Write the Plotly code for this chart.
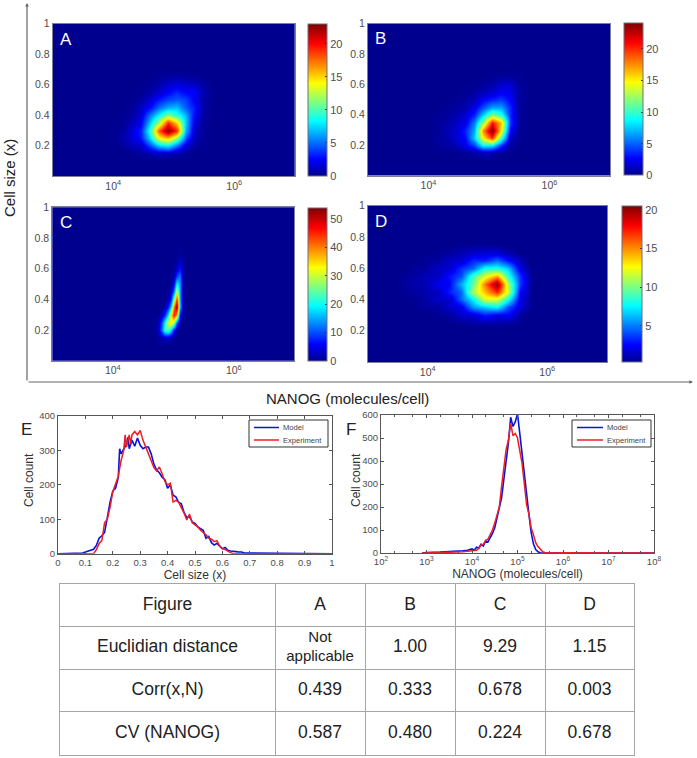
import plotly.graph_objects as go

W, H = 697, 758

# heatmap grids: log10(NANOG) on x, cell size on y
ab_logn = [4.0, 4.15, 4.3, 4.45, 4.6, 4.75, 4.9, 5.05, 5.2, 5.35, 5.5, 5.65]
ab_size = [0.10, 0.15, 0.20, 0.25, 0.30, 0.35, 0.40, 0.45, 0.50, 0.55, 0.60, 0.65, 0.70]
z_a = [
    [0, 0, 0, 0, 0, 0, 0, 0, 0, 0, 0, 0],
    [0, 0, 0, .3, .6, 1, .8, .5, .2, 0, 0, 0],
    [0, .2, 1, 1.2, 4, 7, 8, 5, 1.6, .3, .1, 0],
    [.1, .6, 1.6, 3, 7.5, 14, 16, 12, 4.5, .9, .1, 0],
    [.1, .3, 1.8, 3.2, 9, 18, 23, 19, 6.5, 1.2, .2, 0],
    [0, .1, .9, 2.2, 7, 12, 19, 15, 7, 1.7, .2, 0],
    [0, .1, .4, 1.6, 5, 8, 11, 9, 6.5, 2.4, .4, 0],
    [0, 0, .2, 1.2, 2.6, 5, 6.5, 7, 4.5, 3, .4, 0],
    [0, 0, 0, .4, 1.5, 3, 4, 4.5, 4, 2, .5, 0],
    [0, 0, 0, .1, .6, 1.5, 2.5, 3.5, 2.5, 2.5, .7, .1],
    [0, 0, 0, 0, .2, .6, 1.4, 1.8, 1.5, 1.2, .4, 0],
    [0, 0, 0, 0, 0, .1, .4, .6, .3, .2, 0, 0],
    [0, 0, 0, 0, 0, 0, 0, 0, 0, 0, 0, 0],
]
z_b = [
    [0, 0, 0, 0, 0, 0, 0, 0, 0, 0, 0, 0],
    [0, 0, 0, 0, .2, .5, 1, .8, .2, 0, 0, 0],
    [0, .2, .4, .9, 2.2, 4, 8.5, 8, 3.5, .4, 0, 0],
    [0, .4, .7, 1.7, 2.8, 7.5, 15, 20, 10.5, 1.3, .1, 0],
    [0, .2, 1, 1.3, 3.4, 6.5, 17.5, 24, 15, 2.6, .2, 0],
    [0, .3, .5, 1.4, 2, 5.5, 12, 20.5, 16, 4, .3, 0],
    [0, .1, .4, .6, 1.6, 3.2, 7.5, 11.5, 9.5, 3.5, .3, 0],
    [0, 0, .1, .4, .7, 2, 4.5, 6.5, 6.5, 3.5, .3, 0],
    [0, 0, 0, .1, .4, .9, 2.4, 3.4, 4, 2.6, .4, 0],
    [0, 0, 0, 0, .1, .4, 1, 1.5, 2.4, 2.2, .4, 0],
    [0, 0, 0, 0, 0, .1, .3, .6, 1.6, 1.6, .3, 0],
    [0, 0, 0, 0, 0, 0, 0, .1, .3, .3, .1, 0],
    [0, 0, 0, 0, 0, 0, 0, 0, 0, 0, 0, 0],
]
c_logn = [4.6, 4.65, 4.7, 4.75, 4.8, 4.85, 4.9, 4.95, 5.0, 5.05, 5.1, 5.15, 5.2, 5.25, 5.3]
c_size = [0.10, 0.15, 0.20, 0.25, 0.30, 0.35, 0.40, 0.45, 0.50, 0.55, 0.60, 0.65, 0.70, 0.75]
z_c = [
    [0, 0, 0, 0, 0, 0, 0, 0, 0, 0, 0, 0, 0, 0, 0],
    [0, 0, 0, .5, 1.5, 3, 3, 1.5, .5, 0, 0, 0, 0, 0, 0],
    [0, 0, .8, 4, 12, 22, 24, 18, 7, 1, 0, 0, 0, 0, 0],
    [0, 0, .5, 3, 10, 20, 30, 34, 28, 10, 1, 0, 0, 0, 0],
    [0, 0, 0, 0, 3, 8, 17, 32, 47, 38, 8, .5, 0, 0, 0],
    [0, 0, 0, 0, 0, 2, 6, 16, 40, 54, 17, 1, 0, 0, 0],
    [0, 0, 0, 0, 0, 0, 2, 7, 26, 46, 16, 1, 0, 0, 0],
    [0, 0, 0, 0, 0, 0, 0, 3, 12, 32, 15, 1, 0, 0, 0],
    [0, 0, 0, 0, 0, 0, 0, 0, 5, 20, 14, 1, 0, 0, 0],
    [0, 0, 0, 0, 0, 0, 0, 0, 2, 10, 13, 1.5, 0, 0, 0],
    [0, 0, 0, 0, 0, 0, 0, 0, 0, 3, 7, 1.5, 0, 0, 0],
    [0, 0, 0, 0, 0, 0, 0, 0, 0, .8, 3, 1, 0, 0, 0],
    [0, 0, 0, 0, 0, 0, 0, 0, 0, 0, .5, .2, 0, 0, 0],
    [0, 0, 0, 0, 0, 0, 0, 0, 0, 0, 0, 0, 0, 0, 0],
]
d_logn = [3.35, 3.55, 3.75, 3.95, 4.15, 4.35, 4.55, 4.75, 4.95, 5.15, 5.35, 5.55, 5.75]
d_size = [0.20, 0.25, 0.30, 0.35, 0.40, 0.45, 0.50, 0.55, 0.60, 0.65, 0.70, 0.75, 0.80]
z_d = [
    [0, 0, 0, 0, 0, 0, 0, 0, 0, 0, 0, 0, 0],
    [0, 0, 0, 0, 0, .3, .5, .7, .8, .8, .7, .4, 0],
    [0, 0, 0, .2, .5, .5, 1.5, 1.6, 3, 2, 2.5, .6, 0],
    [0, 0, .3, .6, .6, 1.6, 2, 5.5, 6.5, 7.5, 4, 1.8, .2],
    [0, .2, .4, .7, 1.5, 1.4, 4.5, 7.5, 12, 12, 8, 2, .3],
    [0, .4, .6, .9, 1.2, 3, 4.5, 11, 14, 17, 11.5, 2.5, .3],
    [.1, .5, .8, 1, 2.2, 2.4, 6, 9.5, 15.5, 20.5, 11, 3.6, .3],
    [.1, .4, .6, 1.2, 1.2, 2.8, 4, 9, 12, 14.5, 8.5, 3.4, .3],
    [0, .2, .5, .6, 1.3, 1.5, 3.4, 4.5, 8, 8, 6.5, 1.8, .2],
    [0, 0, .2, .5, .6, 1.4, 1.5, 3.2, 3, 4.5, 2.6, 1.2, 0],
    [0, 0, 0, .3, .4, .6, 1, 1.5, 1.8, 1.8, 1, .3, 0],
    [0, 0, 0, 0, .2, .3, .4, .5, .5, .4, .2, 0, 0],
    [0, 0, 0, 0, 0, 0, 0, 0, 0, 0, 0, 0, 0],
]

# panel E
e_model_x = [0, .08, .09, .10, .11, .12, .13, .14, .15, .16, .17, .18, .19, .20, .21, .22, .225, .23, .24, .25,
             .255, .26, .27, .28, .29, .30, .31, .32, .33, .34, .35, .36, .37, .38, .39, .40, .41, .42, .43, .44,
             .45, .46, .47, .48, .49, .50, .51, .52, .53, .54, .55, .56, .57, .58, .59, .60, .61, .62, .63, .64,
             .65, .66, .67, .68, .69, .70, .75, .76, 1]
e_model_y = [0, 0, 2, 5, 7, 9, 13, 24, 45, 52, 62, 105, 150, 182, 190, 222, 305, 290, 305, 318,
             338, 305, 330, 312, 336, 315, 305, 310, 310, 290, 260, 243, 235, 222, 215, 190, 200, 170, 165, 150,
             145, 120, 105, 108, 92, 88, 78, 72, 68, 45, 50, 32, 25, 30, 22, 14, 18, 10, 8, 6,
             6, 5, 5, 2, 2, 0, 1, 0, 0]
e_exp_x = [0, .13, .14, .15, .16, .17, .18, .19, .20, .21, .22, .23, .24, .245, .25, .26, .265, .27, .28, .29,
           .30, .31, .32, .33, .34, .35, .36, .37, .38, .39, .40, .41, .42, .43, .44, .45, .46, .47, .48, .49,
           .50, .51, .52, .53, .54, .55, .56, .57, .58, .59, .60, .61, .62, .63, .64, 1]
e_exp_y = [0, 0, 12, 30, 38, 90, 100, 135, 180, 200, 225, 270, 300, 345, 310, 345, 318, 345, 355, 345,
           358, 330, 310, 295, 270, 250, 240, 252, 232, 210, 200, 205, 150, 155, 150, 135, 118, 98, 115, 90,
           85, 78, 68, 62, 55, 45, 42, 35, 38, 22, 15, 12, 7, 3, 0, 0]

# panel F, log10(NANOG) positions
f_model_logx = [2.9, 3, 3.3, 3.6, 3.8, 3.9, 4, 4.05, 4.1, 4.15, 4.2, 4.25, 4.3, 4.35, 4.4, 4.45, 4.5, 4.55, 4.6, 4.65,
                4.7, 4.75, 4.8, 4.85, 4.9, 4.95, 5.0, 5.05, 5.1, 5.15, 5.2, 5.25, 5.3, 5.35, 5.4, 5.45, 5.5, 5.6, 8]
f_model_y = [0, 2, 4, 6, 10, 12, 18, 12, 25, 22, 38, 30, 52, 48, 65, 85, 110, 150, 190, 240,
             320, 400, 480, 590, 550, 570, 605, 520, 430, 340, 240, 170, 90, 40, 15, 5, 1, 0, 0]
f_exp_logx = [2.9, 3.5, 3.8, 4, 4.1, 4.15, 4.2, 4.25, 4.3, 4.35, 4.4, 4.45, 4.5, 4.55, 4.6, 4.65, 4.7, 4.75, 4.8, 4.85,
              4.9, 4.95, 5.0, 5.05, 5.1, 5.15, 5.2, 5.25, 5.3, 5.35, 5.4, 5.45, 5.5, 5.55, 5.6, 5.7, 6, 7, 8]
f_exp_y = [0, 2, 5, 10, 12, 20, 35, 38, 55, 60, 78, 100, 130, 165, 200, 290, 380, 450, 490, 565,
           510, 520, 500, 450, 390, 300, 210, 170, 110, 80, 45, 28, 15, 6, 2, 0, 1, 0, 0]

# table
table_header = ['Figure', 'A', 'B', 'C', 'D']
table_rows = [
    ['Euclidian distance', 'Not<br>applicable', '1.00', '9.29', '1.15'],
    ['Corr(x,N)', '0.439', '0.333', '0.678', '0.003'],
    ['CV (NANOG)', '0.587', '0.480', '0.224', '0.678'],
]

jet = [[0, '#00008f'], [0.11, '#0000ff'], [0.36, '#00ffff'], [0.61, '#ffff00'], [0.87, '#ff0000'], [1, '#800000']]
FONT = 'Liberation Sans'
GREY = '#4d4d4d'
BLUE, RED = '#0a14d8', '#ee1c25'


def xdom(a, b):
    return [a / W, b / W]


def ydom(top, bottom):
    return [1 - bottom / H, 1 - top / H]


def ref(letter, i):
    # plotly wants x, x2, x3... as axis references
    return letter if i == 1 else f'{letter}{i}'


def label(px, py, text, size, color='#222222', angle=0, xanchor='center'):
    # text placed by page pixels
    return dict(xref='paper', yref='paper', x=px / W, y=1 - py / H, text=text, textangle=angle, showarrow=False,
                xanchor=xanchor, yanchor='middle', font=dict(size=size, color=color, family=FONT))


fig = go.Figure()
layout = dict(
    width=W, height=H, margin=dict(l=0, r=0, t=0, b=0, autoexpand=False),
    paper_bgcolor='white', plot_bgcolor='white', showlegend=False,
    font=dict(family=FONT, size=10, color=GREY),
)

# (letter, x, y, z, zmin, zmax, left, right, top, bottom, bar left, bar right, bar ticks)
panels = [
    ('A', ab_logn, ab_size, z_a, 0, 23, 52.7, 294.7, 23.7, 176, 308, 327, [0, 5, 10, 15, 20]),
    ('B', ab_logn, ab_size, z_b, 0, 24, 368, 610, 23.7, 175.5, 624, 642.5, [0, 5, 10, 15, 20]),
    ('C', c_logn, c_size, z_c, 0, 54, 52.3, 294.3, 207.3, 360.7, 308, 327, [0, 10, 20, 30, 40, 50]),
    ('D', d_logn, d_size, z_d, 0.3, 20.5, 368, 607, 205.7, 362, 622, 642, [5, 10, 15, 20]),
]
annotations = []
shapes = []
for i, (name, x, y, z, zmin, zmax, left, right, top, bottom, bl, br, bticks) in enumerate(panels, start=1):
    xr, yr = ref('x', i), ref('y', i)
    fig.add_trace(go.Heatmap(
        x=x, y=y, z=z, zmin=zmin, zmax=zmax, colorscale=jet, zsmooth='best',
        xaxis=xr, yaxis=yr, hoverinfo='skip',
        colorbar=dict(
            x=bl / W, xanchor='left', y=1 - bottom / H, yanchor='bottom',
            len=(bottom - top) / H, lenmode='fraction', thickness=br - bl, thicknessmode='pixels',
            xpad=0, ypad=0, outlinecolor='#6f6f80', outlinewidth=1, tickvals=bticks,
            ticks='inside', ticklen=2, tickcolor='#333333',
            tickfont=dict(family=FONT, size=11, color=GREY),
        ),
    ))
    layout[f'xaxis{i}'] = dict(
        domain=xdom(left, right), range=[3, 7], anchor=yr, tickvals=[4, 6],
        ticktext=['10<sup>4</sup>', '10<sup>6</sup>'], showgrid=False, zeroline=False,
        showline=True, mirror=True, linecolor='#7d7d9c', linewidth=1, ticks='',
        tickfont=dict(size=10.5, color=GREY),
    )
    layout[f'yaxis{i}'] = dict(
        domain=ydom(top, bottom), range=[0, 1], anchor=xr, tickvals=[0.2, 0.4, 0.6, 0.8, 1],
        ticktext=['0.2', '0.4', '0.6', '0.8', '1'], showgrid=False, zeroline=False,
        showline=True, mirror=True, linecolor='#7d7d9c', linewidth=1, ticks='',
        tickfont=dict(size=10.5, color=GREY),
    )
    annotations.append(dict(
        xref=f'{xr} domain', yref=f'{yr} domain', x=0.022, y=0.975, xanchor='left', yanchor='top',
        text=name, showarrow=False, font=dict(size=17, color='white', family=FONT),
    ))
    # dark blue field behind the heatmap grid
    shapes.append(dict(type='rect', xref=f'{xr} domain', yref=f'{yr} domain', x0=0, x1=1, y0=0, y1=1,
                       fillcolor='#00008f', line_width=0, layer='below'))

# panel E
fig.add_trace(go.Scatter(x=e_model_x, y=e_model_y, mode='lines', name='Model', xaxis='x5', yaxis='y5',
                         line=dict(color=BLUE, width=1.6)))
fig.add_trace(go.Scatter(x=e_exp_x, y=e_exp_y, mode='lines', name='Experiment', xaxis='x5', yaxis='y5',
                         line=dict(color=RED, width=1.5)))
# panel F
fig.add_trace(go.Scatter(x=[10 ** v for v in f_model_logx], y=f_model_y, mode='lines', name='Model', xaxis='x6', yaxis='y6',
                         line=dict(color=BLUE, width=1.6)))
fig.add_trace(go.Scatter(x=[10 ** v for v in f_exp_logx], y=f_exp_y, mode='lines', name='Experiment', xaxis='x6', yaxis='y6',
                         line=dict(color=RED, width=1.5)))

line_axis = dict(showgrid=False, zeroline=False, showline=True, mirror='ticks', linecolor='#555555', linewidth=1,
                 ticks='inside', ticklen=3, tickcolor='#555555')
layout['xaxis5'] = dict(domain=xdom(58, 332), range=[0, 1], anchor='y5', tickvals=[i / 10 for i in range(11)],
                        ticktext=['0', '0.1', '0.2', '0.3', '0.4', '0.5', '0.6', '0.7', '0.8', '0.9', '1'],
                        title=dict(text='Cell size (x)', font=dict(size=12, color='#333333'), standoff=3),
                        tickfont=dict(size=9.5), **line_axis)
layout['yaxis5'] = dict(domain=ydom(416, 553.7), range=[0, 400], anchor='x5', tickvals=[0, 100, 200, 300, 400],
                        tickfont=dict(size=9.5), **line_axis)
layout['xaxis6'] = dict(domain=xdom(381, 654), type='log', range=[2, 8], anchor='y6', tickvals=[10 ** k for k in range(2, 9)],
                        ticktext=[f'10<sup>{k}</sup>' for k in range(2, 9)],
                        minor=dict(ticks='inside', ticklen=2, tickcolor='#555555'),
                        title=dict(text='NANOG (molecules/cell)', font=dict(size=12, color='#333333'), standoff=1),
                        tickfont=dict(size=9.5), **line_axis)
layout['yaxis6'] = dict(domain=ydom(415, 553), range=[0, 600], anchor='x6', tickvals=[0, 100, 200, 300, 400, 500, 600],
                        tickfont=dict(size=9.5), **line_axis)

# MATLAB style legend boxes, plotly's own legend rows are too tall for these
for box_l, box_r, sample_l, sample_r in [(249, 328, 254, 279), (572, 651, 577, 603)]:
    shapes.append(dict(type='rect', xref='paper', yref='paper', x0=box_l / W, x1=box_r / W,
                       y0=1 - 447 / H, y1=1 - 420 / H, fillcolor='white', line=dict(color='#333333', width=1)))
    for py, color, name in [(427.5, BLUE, 'Model'), (440, RED, 'Experiment')]:
        shapes.append(dict(type='line', xref='paper', yref='paper', x0=sample_l / W, x1=sample_r / W,
                           y0=1 - py / H, y1=1 - py / H, line=dict(color=color, width=1.5)))
        annotations.append(label(sample_r + 2, py, name, 7.6, '#444444', xanchor='left'))

# table drawn on its own axes, rules are the axis grid
col_edges = [0, 215, 305, 395, 485, 574]
col_mid = [(a + b) / 2 for a, b in zip(col_edges[:-1], col_edges[1:])]
for r, row in enumerate([table_header] + table_rows):
    fig.add_trace(go.Scatter(
        x=col_mid, y=[r + 0.5] * 5, text=row, mode='text', xaxis='x7', yaxis='y7',
        textposition='middle center', hoverinfo='skip',
        textfont=dict(family=FONT, color='#222222', size=[15 if 'Not' in t else 17.5 for t in row]),
    ))
layout['xaxis7'] = dict(domain=xdom(60, 634), range=[0, 574], anchor='y7', tickvals=col_edges, showticklabels=False,
                        showgrid=True, gridcolor='#a6a6a6', gridwidth=1, zeroline=False, ticks='',
                        showline=True, mirror=True, linecolor='#a6a6a6')
layout['yaxis7'] = dict(domain=ydom(584, 754.5), range=[4, 0], anchor='x7', tickvals=[0, 1, 2, 3, 4], showticklabels=False,
                        showgrid=True, gridcolor='#a6a6a6', gridwidth=1, zeroline=False, ticks='',
                        showline=True, mirror=True, linecolor='#a6a6a6')

# big L shaped axes round A-D, ax/ay are pixel offsets from the arrow tip
for x0, y0, x1, y1 in [(27, 382, 27, 3), (27, 382, 693, 382)]:
    annotations.append(dict(
        xref='paper', yref='paper', text='',
        x=x1 / W, y=1 - y1 / H, ax=x0 - x1, ay=y0 - y1,
        showarrow=True, arrowhead=2, arrowsize=0.6, arrowwidth=1.2, arrowcolor='#666666',
    ))
annotations += [
    label(10, 178, 'Cell size (x)', 15, angle=-90),
    label(347, 398, 'NANOG (molecules/cell)', 15),
    label(27, 429, 'E', 17),
    label(351, 429, 'F', 17),
    label(29, 480, 'Cell count', 12, '#333333', angle=-90),
    label(356, 480, 'Cell count', 12, '#333333', angle=-90),
]
layout['annotations'] = annotations
layout['shapes'] = shapes
fig.update_layout(**layout)

# the page's default body margin would push the figure 8px off
fig.write_html("out.html", config={'displayModeBar': False}, post_script="document.body.style.margin = '0';")
